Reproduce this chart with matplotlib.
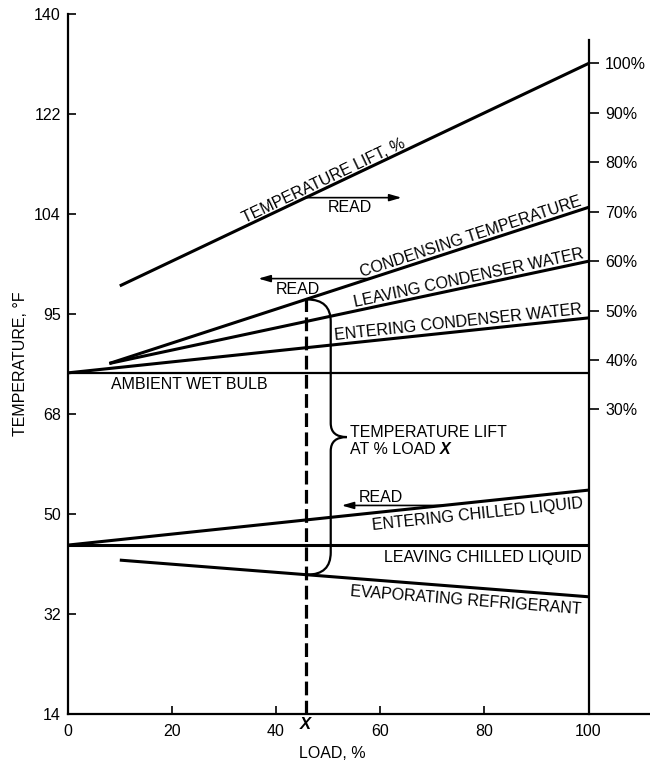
# Chiller temperature lift vs load chart
import numpy as np
import matplotlib
matplotlib.use("Agg")
import matplotlib.pyplot as plt
from matplotlib.path import Path
from matplotlib.patches import PathPatch

plt.rcParams['font.family'] = ['Liberation Sans', 'DejaVu Sans']
plt.rcParams['font.size'] = 11.5

# === DATA ===
temp_ticks = [14, 32, 50, 68, 86, 104, 122, 140]
temp_tick_labels = ["14", "32", "50", "68", "95", "104", "122", "140"]
load_ticks = [0, 20, 40, 60, 80, 100]
pct_ticks = [30, 40, 50, 60, 70, 80, 90, 100]
pct_tick_labels = ["30%", "40%", "50%", "60%", "70%", "80%", "90%", "100%"]

lift_load = [10, 100]
lift_pct = [55, 100]            # read on right axis
cond_temp_load = [8, 100]
cond_temp = [77.1, 105.2]
lcw_load = [8, 100]
lcw_temp = [77.1, 95.5]
ecw_load = [0, 100]
ecw_temp = [75.4, 85.3]
wetbulb_load = [0, 100]
wetbulb_temp = [75.4, 75.4]
ecl_load = [0, 100]
ecl_temp = [44.4, 54.3]
lcl_load = [0, 100]
lcl_temp = [44.4, 44.4]
evap_load = [10, 100]
evap_temp = [41.7, 35.1]

x_load = 45.7                   # load "X"

# === FIGURE ===
fig = plt.figure(figsize=(6.5, 7.62), dpi=100)
ax = fig.add_axes([67.7 / 650, 48 / 762, (650 - 67.7) / 650, 700 / 762])
ax.set_xlim(0, 111.8)
ax.set_ylim(14, 140)
ax2 = ax.twinx()
ax2.set_ylim(-31.6, 110)

for s in ['top', 'right']:
    ax.spines[s].set_visible(False)
for s in ['top', 'left', 'bottom']:
    ax2.spines[s].set_visible(False)
ax.spines['left'].set_linewidth(1.6)
ax.spines['bottom'].set_linewidth(1.6)
ax2.spines['right'].set_position(('data', 100))
ax2.spines['right'].set_bounds(-31.6, 104.7)
ax2.spines['right'].set_linewidth(1.6)

ax.set_yticks(temp_ticks, temp_tick_labels)
ax.set_xticks(load_ticks)
ax.tick_params(axis='y', direction='in', length=6, width=1.2, pad=5)
ax.tick_params(axis='x', direction='in', length=5.8, width=1.2, pad=7)
ax2.set_yticks(pct_ticks, pct_tick_labels)
ax2.tick_params(axis='y', direction='out', length=7, width=1.2, pad=5)

ax.set_ylabel("TEMPERATURE, °F")
ax.yaxis.set_label_coords(-0.068, 0.5)
ax.set_xlabel("LOAD, %")
ax.xaxis.set_label_coords(0.454, -0.045)

lw = 2.2
ax2.plot(lift_load, lift_pct, color='k', lw=lw, solid_capstyle='butt')
ax.plot(cond_temp_load, cond_temp, color='k', lw=lw, solid_capstyle='butt')
ax.plot(lcw_load, lcw_temp, color='k', lw=lw, solid_capstyle='butt')
ax.plot(ecw_load, ecw_temp, color='k', lw=lw, solid_capstyle='butt')
ax.plot(wetbulb_load, wetbulb_temp, color='k', lw=1.6, solid_capstyle='butt')
ax.plot(ecl_load, ecl_temp, color='k', lw=lw, solid_capstyle='butt')
ax.plot(lcl_load, lcl_temp, color='k', lw=lw, solid_capstyle='butt')
ax.plot(evap_load, evap_temp, color='k', lw=lw, solid_capstyle='butt')

# dashed line at load X
top_x = np.interp(x_load, cond_temp_load, cond_temp)
bot_x = np.interp(x_load, evap_load, evap_temp)
ax.plot([x_load, x_load], [14, top_x], color='k', lw=2.3, linestyle=(0, (4.3, 1.7)))
ax.annotate("X", xy=(x_load, 14), xytext=(0, -2), textcoords='offset points',
            ha='center', va='top', fontweight='bold', fontstyle='italic', fontsize=12)


def screen_angle(axis, xs, ys):
    p = axis.transData.transform(np.column_stack([xs, ys]))
    return np.degrees(np.arctan2(p[1, 1] - p[0, 1], p[1, 0] - p[0, 0]))


def line_label(axis, text, xs, ys, at, dy, va):
    yv = np.interp(at, xs, ys)
    axis.annotate(text, xy=(at, yv), xytext=(0, dy), textcoords='offset points',
                  rotation=screen_angle(axis, xs, ys), rotation_mode='anchor',
                  ha='center', va=va)


line_label(ax2, "TEMPERATURE LIFT, %", lift_load, lift_pct, 49.6, 2.5, 'baseline')
line_label(ax, "CONDENSING TEMPERATURE", cond_temp_load, cond_temp, 77.6, 3, 'baseline')
line_label(ax, "LEAVING CONDENSER WATER", lcw_load, lcw_temp, 77.1, 3, 'baseline')
line_label(ax, "ENTERING CONDENSER WATER", ecw_load, ecw_temp, 75.1, 3, 'baseline')
line_label(ax, "ENTERING CHILLED LIQUID", ecl_load, ecl_temp, 78.6, -4, 'top')
line_label(ax, "EVAPORATING REFRIGERANT", evap_load, evap_temp, 76.6, -4, 'top')
ax.annotate("AMBIENT WET BULB", xy=(8.4, wetbulb_temp[0]), xytext=(0, -3),
            textcoords='offset points', ha='left', va='top')
ax.annotate("LEAVING CHILLED LIQUID", xy=(98.7, lcl_temp[0]), xytext=(0, -3.5),
            textcoords='offset points', ha='right', va='top')

# READ arrows
arrow = dict(arrowstyle='-|>,head_length=0.55,head_width=0.16', color='k', lw=1.2,
             mutation_scale=13, shrinkA=0, shrinkB=0)
lift_y = np.interp(x_load, lift_load, lift_pct)
ax2.annotate("", xy=(64.1, lift_y), xytext=(x_load, lift_y), arrowprops=arrow)
ax2.annotate("READ", xy=(54.2, lift_y), xytext=(0, -2), textcoords='offset points',
             ha='center', va='top')

cond_y = np.interp(58, cond_temp_load, cond_temp)
ax.annotate("", xy=(36.6, cond_y), xytext=(58, cond_y), arrowprops=arrow)
ax.annotate("READ", xy=(44.1, cond_y), xytext=(0, -2.5), textcoords='offset points',
            ha='center', va='top')

ecl_y = np.interp(72.1, ecl_load, ecl_temp)
ax.annotate("", xy=(52.6, ecl_y), xytext=(72.1, ecl_y), arrowprops=arrow)
ax.annotate("READ", xy=(60.1, ecl_y), xytext=(0, 2.5), textcoords='offset points',
            ha='center', va='baseline')

# brace between condensing and evaporating lines
x0 = x_load + 0.3
xv = x_load + 4.8
xt = x_load + 7.9
mid = (top_x + bot_x) / 2
verts = [(x0, top_x), (xv, top_x), (xv, top_x - 4),
         (xv, mid + 2.5), (xv, mid), (xt, mid),
         (xv, mid), (xv, mid - 2.5),
         (xv, bot_x + 4), (xv, bot_x), (x0, bot_x)]
codes = [Path.MOVETO, Path.CURVE3, Path.CURVE3,
         Path.LINETO, Path.CURVE3, Path.CURVE3,
         Path.CURVE3, Path.CURVE3,
         Path.LINETO, Path.CURVE3, Path.CURVE3]
ax.add_patch(PathPatch(Path(verts, codes), facecolor='none', edgecolor='k', lw=1.6))

t1 = ax.annotate("TEMPERATURE LIFT", xy=(xt, mid), xytext=(2, 0),
                 textcoords='offset points', ha='left', va='baseline')
t2 = ax.annotate("AT % LOAD", xy=(xt, mid), xytext=(2, -12),
                 textcoords='offset points', ha='left', va='baseline')
ax.annotate("X", xy=(1, 0), xycoords=t2, xytext=(3, 0), textcoords='offset points',
            ha='left', va='bottom', fontweight='bold', fontstyle='italic')

fig.savefig("out.png", dpi=100)
